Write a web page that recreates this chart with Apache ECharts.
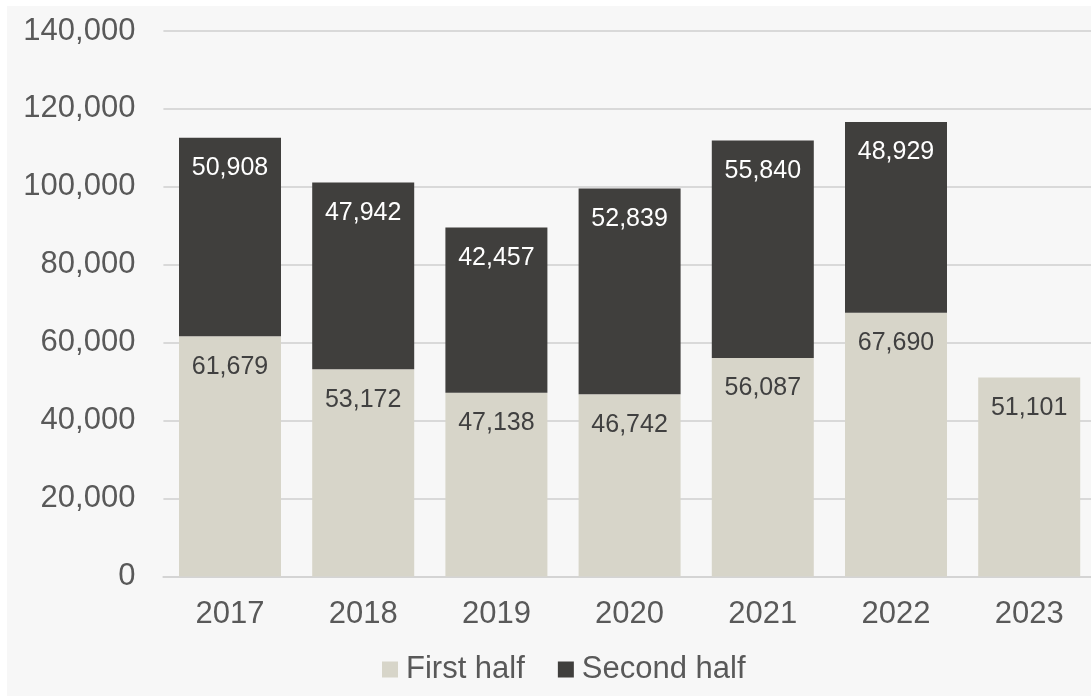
<!DOCTYPE html>
<html>
<head>
<meta charset="utf-8">
<script src="https://cdn.jsdelivr.net/npm/echarts@6/dist/echarts.min.js"></script>
<style>
html,body{margin:0;padding:0;background:#ffffff;overflow:hidden;}
#chart{width:1100px;height:696px;}
</style>
</head>
<body>
<div id="chart"></div>
<script>
const categories = ['2017','2018','2019','2020','2021','2022','2023'];
const firstHalf = [61679, 53172, 47138, 46742, 56087, 67690, 51101];
const secondHalf = [50908, 47942, 42457, 52839, 55840, 48929, null];
const yTicks = [0, 20000, 40000, 60000, 80000, 100000, 120000, 140000];

const fmt = v => v.toLocaleString('en-US');
const font = 'Liberation Sans, Arial, sans-serif';

const chart = echarts.init(document.getElementById('chart'), null, {renderer:'canvas'});
chart.setOption({
  backgroundColor: 'transparent',
  animation: false,
  graphic: [{
    type: 'rect', z: -10, silent: true,
    shape: {x: 7, y: 6, width: 1093, height: 690},
    style: {fill: '#f7f7f7'}
  }],
  grid: {left: 163.4, right: 4.2, top: 31, bottom: 119.5, containLabel: false},
  legend: {
    bottom: 6, left: 377,
    itemWidth: 16, itemHeight: 16, itemGap: 33,
    icon: 'rect',
    textStyle: {fontSize: 31, color: '#595959', fontFamily: font, padding: [0,0,0,3]},
    data: ['First half', 'Second half']
  },
  xAxis: {
    type: 'category', data: categories,
    axisLine: {lineStyle: {color: '#d4d4d4', width: 2}},
    axisTick: {show: false},
    axisLabel: {fontSize: 31, color: '#595959', fontFamily: font, margin: 22}
  },
  yAxis: {
    type: 'value', min: 0, max: 140000, interval: 20000,
    axisLine: {show: false}, axisTick: {show: false},
    splitLine: {lineStyle: {color: '#d9d9d9', width: 2}},
    axisLabel: {fontSize: 31, color: '#595959', fontFamily: font, margin: 28,
      formatter: v => yTicks.includes(v) ? fmt(v) : ''}
  },
  series: [{
    name: 'First half', type: 'bar', stack: 'total', data: firstHalf,
    barWidth: 102,
    itemStyle: {color: '#d7d5c9'},
    label: {show: true, position: 'insideTop', distance: 18, fontSize: 25,
      color: '#404040', fontFamily: font, formatter: p => fmt(p.value)}
  }, {
    name: 'Second half', type: 'bar', stack: 'total', data: secondHalf,
    barWidth: 102,
    itemStyle: {color: '#403f3d'},
    label: {show: true, position: 'insideTop', distance: 18, fontSize: 25,
      color: '#ffffff', fontFamily: font, formatter: p => p.value == null ? '' : fmt(p.value)}
  }]
});
</script>
</body>
</html>
